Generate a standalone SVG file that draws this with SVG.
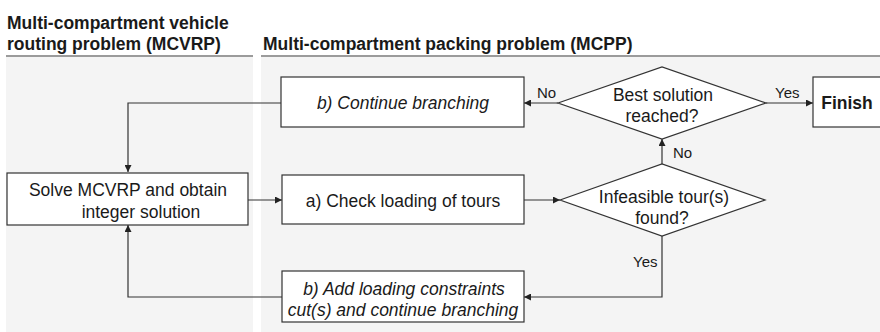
<svg xmlns="http://www.w3.org/2000/svg" width="880" height="332" viewBox="0 0 880 332">
<defs>
<marker id="ah" viewBox="0 0 10 10" refX="10" refY="5" markerWidth="7" markerHeight="7" markerUnits="userSpaceOnUse" orient="auto">
<path d="M0,0 L10,5 L0,10 z" fill="#222"/>
</marker>
<style>
.panel{fill:#f4f4f4}
.hline{stroke:#7a7a7a;stroke-width:1.5}
.hdr{font-family:"Liberation Sans",Arial,sans-serif;font-size:17.5px;font-weight:bold;fill:#1a1a1a}
.box{fill:#fff;stroke:#333;stroke-width:1.2}
.t{font-family:"Liberation Sans",Arial,sans-serif;font-size:17.5px;fill:#1a1a1a;text-anchor:middle}
.it{font-style:italic}
.b{font-weight:bold}
.lbl{font-family:"Liberation Sans",Arial,sans-serif;font-size:15px;fill:#1a1a1a}
.c{fill:none;stroke:#333;stroke-width:1.2;marker-end:url(#ah)}
</style>
</defs>
<g id="panels">
<rect class="panel" x="6" y="57" width="247" height="275"/>
<rect class="panel" x="261" y="57" width="619" height="275"/>
<line class="hline" x1="6" y1="56" x2="253" y2="56"/>
<line class="hline" x1="261" y1="56" x2="880" y2="56"/>
<text class="hdr" x="7" y="29">Multi-compartment vehicle</text>
<text class="hdr" x="7" y="50">routing problem (MCVRP)</text>
<text class="hdr" x="263" y="50">Multi-compartment packing problem (MCPP)</text>
</g>
<g id="connectors">
<polyline class="c" points="281,103 128,103 128,172"/>
<polyline class="c" points="248,200 282,200"/>
<polyline class="c" points="524,200 560,200"/>
<polyline class="c" points="662,164 662,139"/>
<polyline class="c" points="558,103 524,103"/>
<polyline class="c" points="766,103 813,103"/>
<polyline class="c" points="662,236 662,297 524,297"/>
<polyline class="c" points="282,297 128,297 128,225"/>
<text class="lbl" x="537" y="98">No</text>
<text class="lbl" x="775" y="98">Yes</text>
<text class="lbl" x="673" y="158">No</text>
<text class="lbl" x="633" y="267">Yes</text>
</g>
<g id="solve">
<rect class="box" x="7" y="173" width="241" height="52"/>
<text class="t" x="128" y="196">Solve MCVRP and obtain</text>
<text class="t" x="141" y="218">integer solution</text>
</g>
<g id="check">
<rect class="box" x="282" y="175" width="242" height="49"/>
<text class="t" x="403" y="206.5">a) Check loading of tours</text>
</g>
<g id="infeasible">
<polygon class="box" points="560,200 662,164 765,200 662,236"/>
<text class="t" x="664" y="202.5">Infeasible tour(s)</text>
<text class="t" x="662" y="223.5">found?</text>
</g>
<g id="best">
<polygon class="box" points="558,103 662,67 766,103 662,139"/>
<text class="t" x="663" y="100.5">Best solution</text>
<text class="t" x="662" y="121.5">reached?</text>
</g>
<g id="continue">
<rect class="box" x="281" y="77" width="243" height="50"/>
<text class="t it" x="403" y="109">b) Continue branching</text>
</g>
<g id="addcut">
<rect class="box" x="282" y="271" width="242" height="51"/>
<text class="t it" x="404" y="294.5">b) Add loading constraints</text>
<text class="t it" x="403" y="316">cut(s) and continue branching</text>
</g>
<g id="finish">
<rect class="box" x="813" y="77" width="80" height="50"/>
<text class="t b" x="847" y="109">Finish</text>
</g>
</svg>
